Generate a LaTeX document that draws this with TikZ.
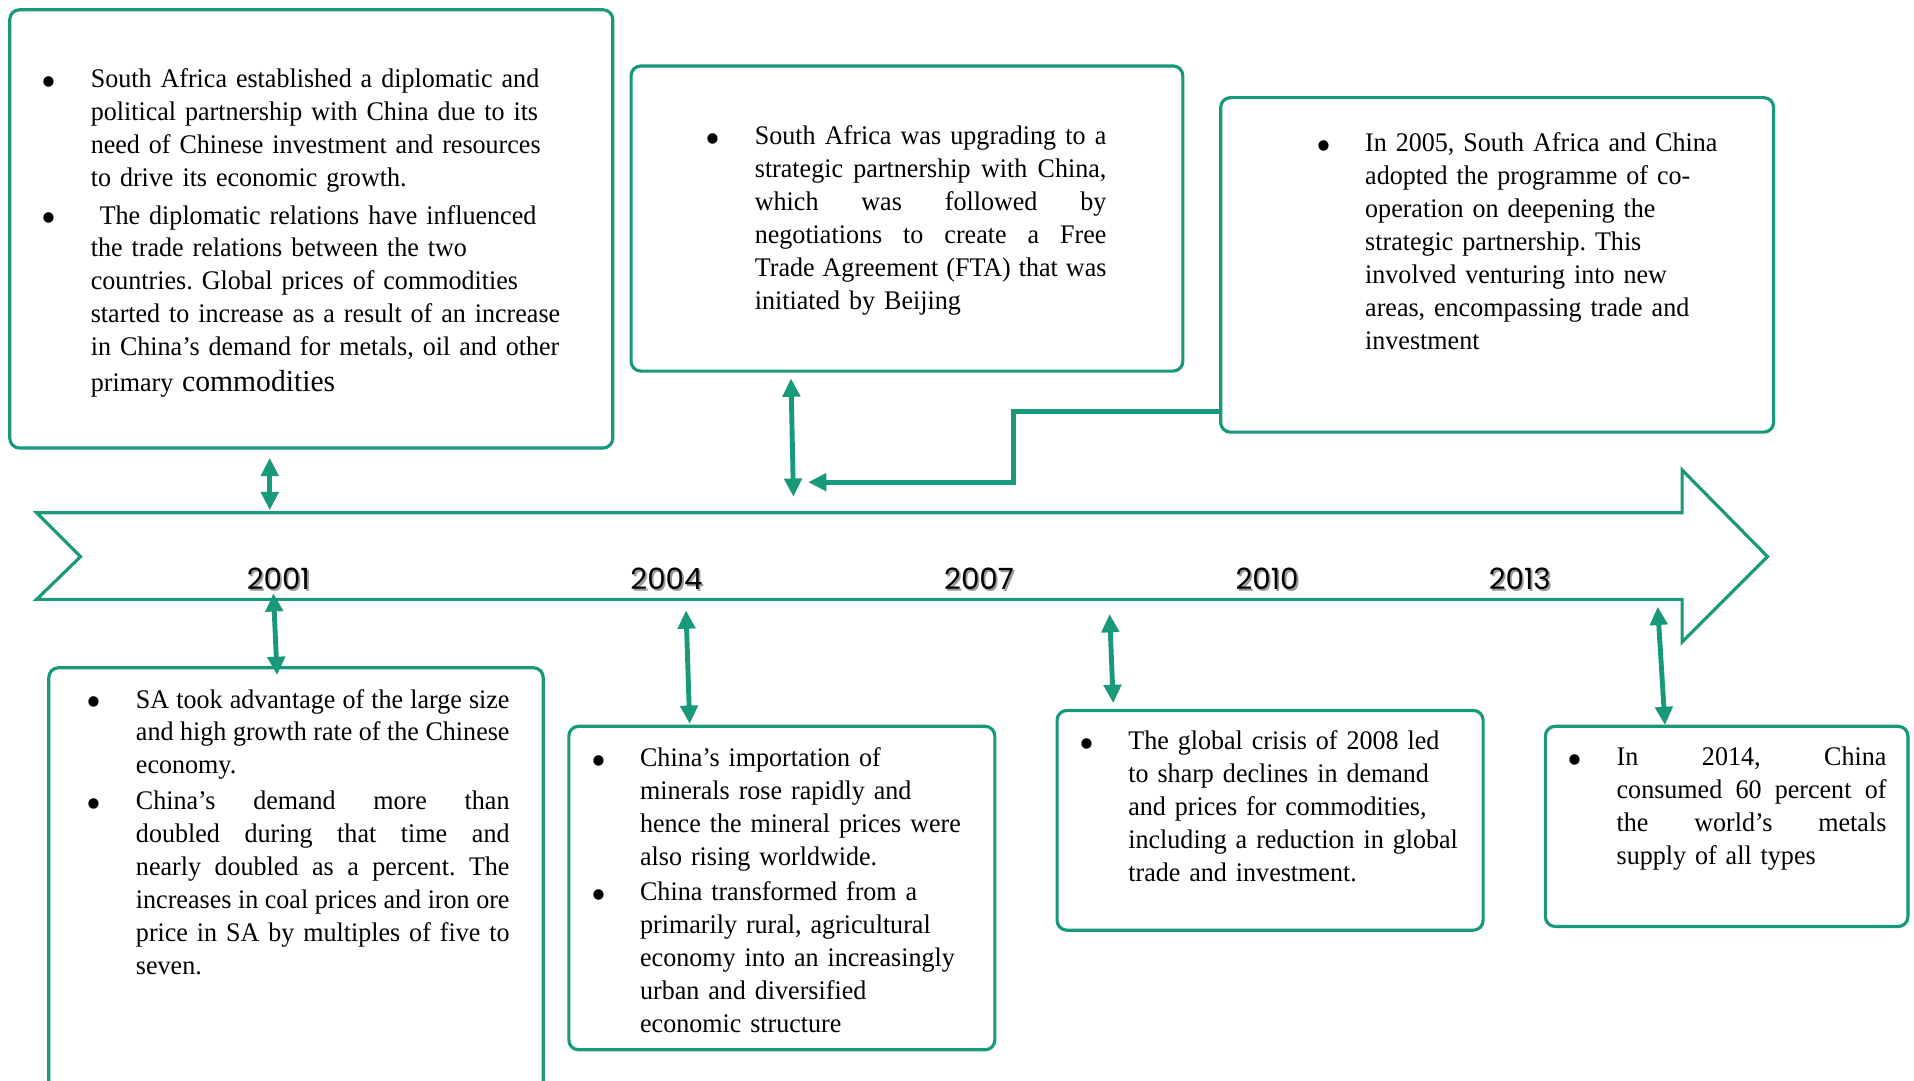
\documentclass[tikz,border=0pt]{standalone}
\usepackage{fontspec}
\setmainfont{Liberation Serif}[FakeStretch=0.97]
\newfontfamily\yearfont{Poppins}
\usetikzlibrary{arrows.meta}
\definecolor{tl}{RGB}{23,153,122}
\newcommand\bul{\leavevmode\llap{\raisebox{-3.6pt}{\fontsize{18}{13.5}\selectfont •}\hspace{14pt}}}
\newcommand\jl[2]{\makebox[#1][s]{\spaceskip=0pt\xspaceskip=0pt #2}}
\begin{document}
\begin{tikzpicture}[x=0.5pt,y=-0.5pt,
 box/.style={draw=tl,line width=1.3pt,rounded corners=4pt,inner sep=0pt},
 txt/.style={anchor=base west,inner sep=0pt,align=left,font=\fontsize{11}{13.5}\selectfont\frenchspacing},
 dbl/.style={draw=tl,line width=2pt,{Triangle[width=7pt,length=7.5pt]}-{Triangle[width=7pt,length=7.5pt]}},
 conn/.style={draw=tl,line width=2pt,-{Triangle[width=7pt,length=7.5pt]}},
 yr/.style={font=\yearfont\fontsize{12}{14}\selectfont,inner sep=0pt,anchor=base},
 yrs/.style={yr,text=black!40},
]
\useasboundingbox (0,0) rectangle (1568,885);
\fill[white] (0,0) rectangle (1568,885);

% timeline arrow
\draw[tl,line width=1.3pt,line join=miter] (30,420) -- (1378,420) -- (1378,385) -- (1448,456) -- (1378,526) -- (1378,491) -- (30,491) -- (66,456) -- cycle;

% boxes
\node[box,minimum width=247pt,minimum height=179.5pt] (b1) at (255,187.5) {};
\node[box,minimum width=226pt,minimum height=125pt] (b2) at (743,179) {};
\node[box,minimum width=226.5pt,minimum height=137pt] (b3) at (1226.5,217) {};
\node[box,minimum width=202.5pt,minimum height=174pt] (b4) at (242.5,721) {};
\node[box,minimum width=174.5pt,minimum height=132.5pt] (b5) at (640.5,727.5) {};
\node[box,minimum width=174.5pt,minimum height=90pt] (b6) at (1040.5,672) {};
\node[box,minimum width=148.5pt,minimum height=82pt] (b7) at (1414.5,677) {};

% texts
\node[txt,text width=200pt] (t1) at (74,71.5) {\bul South Africa established a diplomatic and\\
political partnership with China due to its\\
need of Chinese investment and resources\\
to drive its economic growth.\\[2pt]
\bul\ The diplomatic relations have influenced\\
the trade relations between the two\\
countries. Global prices of commodities\\
started to increase as a result of an increase\\
in China’s demand for metals, oil and other\\[1pt]
primary {\fontsize{12.5}{13.5}\selectfont commodities}};

\node[txt,text width=144pt] (t2) at (618,118.5) {\bul\jl{144pt}{South Africa was upgrading to a}\\
\jl{144pt}{strategic partnership with China,}\\
\jl{144pt}{which was followed by}\\
\jl{144pt}{negotiations to create a Free}\\
\jl{144pt}{Trade Agreement (FTA) that was}\\
initiated by Beijing};

\node[txt,text width=150pt] (t3) at (1118,124.5) {\bul In 2005, South Africa and China\\
adopted the programme of co-\\
operation on deepening the\\
strategic partnership. This\\
involved venturing into new\\
areas, encompassing trade and\\
investment};

\node[txt,text width=153pt] (t4) at (111,580) {\bul\jl{153pt}{SA took advantage of the large size}\\
\jl{153pt}{and high growth rate of the Chinese}\\
economy.\\[1pt]
\bul\jl{153pt}{China’s demand more than}\\
\jl{153pt}{doubled during that time and}\\
\jl{153pt}{nearly doubled as a percent. The}\\
\jl{153pt}{increases in coal prices and iron ore}\\
\jl{153pt}{price in SA by multiples of five to}\\
seven.};

\node[txt,text width=140pt] (t5) at (524,628) {\bul China’s importation of\\
minerals rose rapidly and\\
hence the mineral prices were\\
also rising worldwide.\\[1pt]
\bul China transformed from a\\
primarily rural, agricultural\\
economy into an increasingly\\
urban and diversified\\
economic structure};

\node[txt,text width=140pt] (t6) at (924,614) {\bul The global crisis of 2008 led\\
to sharp declines in demand\\
and prices for commodities,\\
including a reduction in global\\
trade and investment.};

\node[txt,text width=110.5pt] (t7) at (1324,627) {\bul\jl{110.5pt}{In 2014, China}\\
\jl{110.5pt}{consumed 60 percent of}\\
\jl{110.5pt}{the world’s metals}\\
supply of all types};

% years
\node[yrs] (y1s) at (229.5,484.5) {2001};
\node[yr] (y1) at (228,483) {2001};
\node[yrs] (y2s) at (547.5,484.5) {2004};
\node[yr] (y2) at (546,483) {2004};
\node[yrs] (y3s) at (803.5,484.5) {2007};
\node[yr] (y3) at (802,483) {2007};
\node[yrs] (y4s) at (1039.5,484.5) {2010};
\node[yr] (y4) at (1038,483) {2010};
\node[yrs] (y5s) at (1246.5,484.5) {2013};
\node[yr] (y5) at (1245,483) {2013};

% arrow end coordinates
\coordinate (p1a) at (221,375); \coordinate (p1b) at (221,418);
\coordinate (p2a) at (648,310); \coordinate (p2b) at (650,407);
\coordinate (p3a) at (224,486); \coordinate (p3b) at (227,553);
\coordinate (p4a) at (562,500); \coordinate (p4b) at (565,593);
\coordinate (p5a) at (909,503); \coordinate (p5b) at (912,576);
\coordinate (p6a) at (1358,497); \coordinate (p6b) at (1364,594);
\coordinate (c1) at (1000,337);
\coordinate (c2) at (662,395);

\draw[dbl] (p1a) -- (p1b);
\draw[dbl] (p2a) -- (p2b);
\draw[dbl] (p3a) -- (p3b);
\draw[dbl] (p4a) -- (p4b);
\draw[dbl] (p5a) -- (p5b);
\draw[dbl] (p6a) -- (p6b);
\draw[conn] (b3.west |- c1) -- (830,337) -- (830,395) -- (c2);
\end{tikzpicture}
\end{document}
